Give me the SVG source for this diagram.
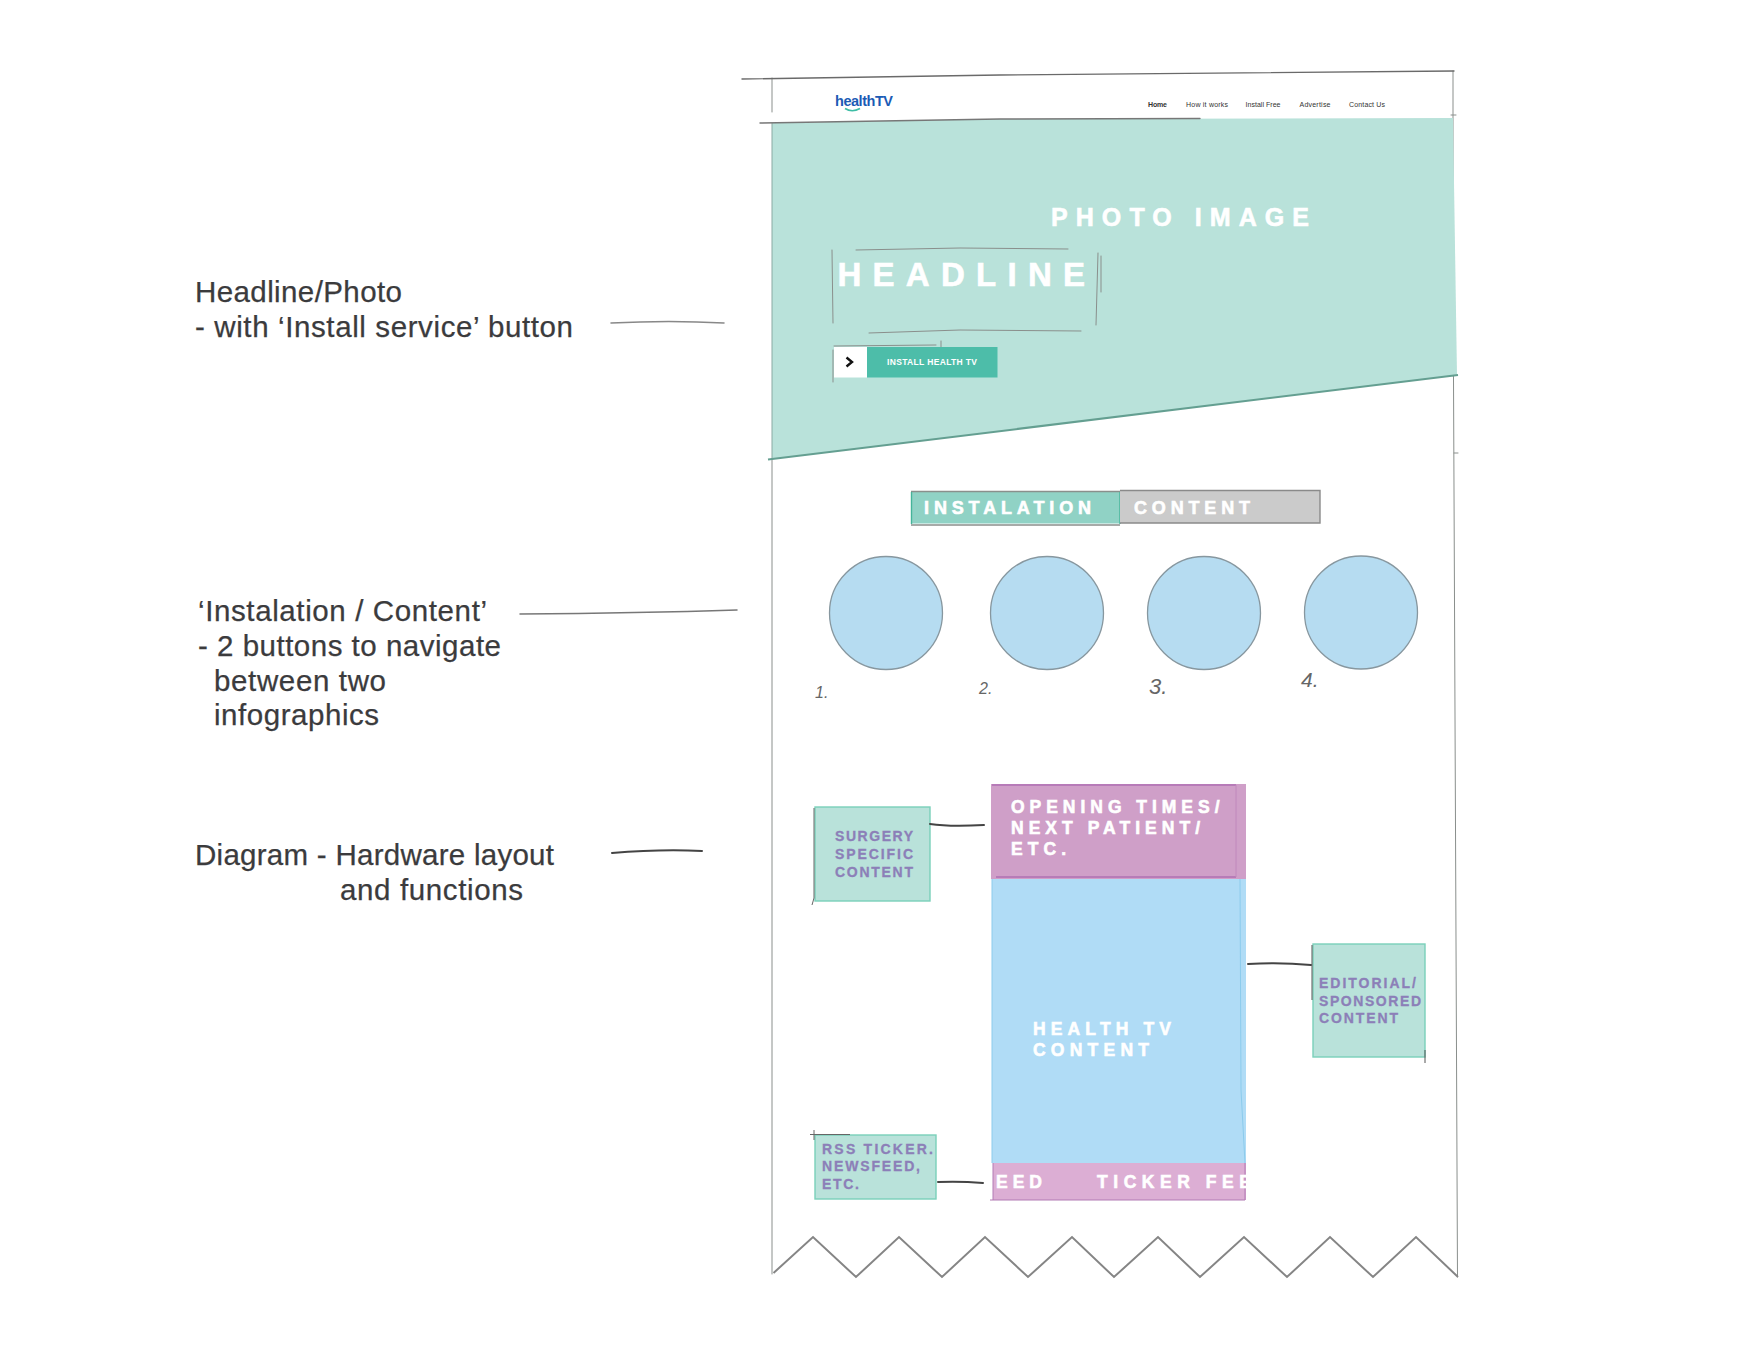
<svg xmlns="http://www.w3.org/2000/svg" width="1746" height="1367" viewBox="0 0 1746 1367">
<style>
text{font-family:"Liberation Sans",Arial,sans-serif}
.note{font-size:29.500px;fill:#3b3b3d;stroke:#3b3b3d;stroke-width:.25}
.hw{font-weight:700;fill:#fff;stroke:#fff;stroke-width:.6}
.s17{font-size:17.500px}
.pv{font-size:14px;font-weight:700;fill:#8c7fb8;stroke:#8c7fb8;stroke-width:.3}
.nav{font-size:7px;fill:#333}
.num{font-size:16px;font-style:italic;fill:#666}
.pen{fill:none;stroke:#8a8f8c;stroke-width:1;stroke-linecap:round}
.pen2{fill:none;stroke:#6a6a6a;stroke-width:1.400;stroke-linecap:round}
.ink{fill:none;stroke:#444;stroke-width:2;stroke-linecap:round}
.circ{fill:#b6dcf1;stroke:#87979f;stroke-width:1.300}
.grn{fill:#b9e2da;stroke:#7ad0ba;stroke-width:1.400}
</style>
<defs><clipPath id="fc"><rect x="993" y="1163" width="253" height="37"/></clipPath></defs>
<rect width="1746" height="1367" fill="#fff"/>

<g id="note-headline">
<text class="note" x="195" y="302" textLength="207" lengthAdjust="spacing">Headline/Photo</text>
<text class="note" x="195" y="337" textLength="378" lengthAdjust="spacing">- with ‘Install service’ button</text>
</g>
<g id="note-instalation">
<text class="note" x="198" y="621" textLength="289" lengthAdjust="spacing">‘Instalation / Content’</text>
<text class="note" x="198" y="656" textLength="303" lengthAdjust="spacing">- 2 buttons to navigate</text>
<text class="note" x="214" y="691" textLength="172" lengthAdjust="spacing">between two</text>
<text class="note" x="214" y="725" textLength="165" lengthAdjust="spacing">infographics</text>
</g>
<g id="note-diagram">
<text class="note" x="195" y="865" textLength="359" lengthAdjust="spacing">Diagram - Hardware layout</text>
<text class="note" x="340" y="900" textLength="183" lengthAdjust="spacing">and functions</text>
</g>

<g id="page-frame">
<path class="pen" d="M772 78V112M772 459V1274M1453 71V376M1453.500 376L1457.500 1277M1451 115h5M1454 453h4"/>
<path class="pen2" d="M742 79L1000 75L1454 71"/>
<polyline points="773.500,1273 813,1237 856,1277 899,1237 942,1277 985,1237 1028,1277 1072,1237 1114,1277 1158,1237 1200,1277 1244,1237 1287,1277 1330,1237 1373,1277 1416,1237 1458,1277" fill="none" stroke="#858585" stroke-width="2"/>
</g>

<g id="site-header">
<text x="835" y="106" font-size="14.500" font-weight="700" fill="#1c5bb5" textLength="58" lengthAdjust="spacing">healthTV</text>
<path d="M845 108.500Q852 113 860 108.500" fill="none" stroke="#3dbda5" stroke-width="1.600"/>
<text class="nav" x="1148" y="106.500" font-weight="700" textLength="19">Home</text>
<text class="nav" x="1186" y="106.500" textLength="42">How it works</text>
<text class="nav" x="1245.500" y="106.500" textLength="35">Install Free</text>
<text class="nav" x="1299.500" y="106.500" textLength="31">Advertise</text>
<text class="nav" x="1349" y="106.500" textLength="36">Contact Us</text>
</g>

<g id="hero">
<polygon points="772,123 1000,119 1453,118 1457,375 772,459" fill="#b9e2da"/>
<path class="pen" d="M772 123V459" style="stroke:#8aa9a2"/>
<path class="pen2" d="M760 123L1000 119L1200 118.500" style="stroke:#777"/>
<path d="M768 459.500L1458 375" fill="none" stroke="#649f91" stroke-width="2"/>
<text class="hw" x="1051" y="226" font-size="25" textLength="258" lengthAdjust="spacing">PHOTO IMAGE</text>
<text class="hw" x="837.500" y="286" font-size="33" textLength="247.500" lengthAdjust="spacing">HEADLINE</text>
<path class="pen" d="M856 250L960 248L1068 249M832 250L833 323M1098 253L1096 325M1101 256L1101 292M869 333L960 330L1081 331"/>
</g>

<g id="install-button">
<path class="pen" d="M834 346L936 345M941 341V347M833 350V382"/>
<rect x="834" y="347" width="33" height="30.500" fill="#fff"/>
<rect x="867" y="347" width="130.500" height="30.500" fill="#4dbda9"/>
<path d="M846.500 357.500L852 362L846.500 366.500" fill="none" stroke="#111" stroke-width="2.400"/>
<text x="887" y="365" font-size="8.500" font-weight="700" fill="#fff" textLength="90" lengthAdjust="spacing">INSTALL HEALTH TV</text>
</g>

<g id="tab-instalation">
<rect x="911" y="491.500" width="209" height="32" fill="#90d2c5"/>
<path d="M911 491.500H1120M911 525H1120" fill="none" stroke="#8a8f8c" stroke-width="1.400"/>
<path d="M911.500 492V524M1120 492V524" fill="none" stroke="#45b49a" stroke-width="1.400"/>
<text class="hw" x="924" y="514" font-size="18" textLength="167" lengthAdjust="spacing">INSTALATION</text>
</g>
<g id="tab-content">
<rect x="1120" y="490.500" width="200" height="32.500" fill="#cbcbcb"/>
<path d="M1120 490.500H1320V523H1120" fill="none" stroke="#8a8a8a" stroke-width="1.400"/>
<text class="hw" x="1134" y="514" font-size="18" textLength="116" lengthAdjust="spacing">CONTENT</text>
</g>

<g id="circle-1"><ellipse class="circ" cx="886" cy="613" rx="56.500" ry="56.500"/><text class="num" x="815" y="698" font-size="13">1.</text></g>
<g id="circle-2"><ellipse class="circ" cx="1047" cy="613" rx="56.500" ry="56.500"/><text class="num" x="979" y="694">2.</text></g>
<g id="circle-3"><ellipse class="circ" cx="1204" cy="613" rx="56.500" ry="56.500"/><text class="num" x="1149" y="694" style="font-size:22px">3.</text></g>
<g id="circle-4"><ellipse class="circ" cx="1361" cy="612.500" rx="56.500" ry="56.500"/><text class="num" x="1301" y="687" style="font-size:21px">4.</text></g>

<g id="screen-top">
<rect x="991" y="784" width="255" height="95" fill="#cf9fc8"/>
<path d="M992 785H1236M996 877H1236" fill="none" stroke="#b070b2" stroke-width="1.400"/>
<path d="M1236 785V877" fill="none" stroke="#c088bc" stroke-width="1"/>
<text class="hw s17" x="1011" y="813" textLength="208.500" lengthAdjust="spacing">OPENING TIMES/</text>
<text class="hw s17" x="1011" y="834" textLength="189" lengthAdjust="spacing">NEXT PATIENT/</text>
<text class="hw s17" x="1011" y="855" textLength="55" lengthAdjust="spacing">ETC.</text>
</g>
<g id="screen-main">
<rect x="992" y="879" width="254" height="284" fill="#b0dcf6"/>
<path d="M992 879V1163M1240 879L1241 1090L1245 1163" fill="none" stroke="#8ccbec" stroke-width="1"/>
<text class="hw s17" x="1033" y="1035" textLength="138" lengthAdjust="spacing">HEALTH TV</text>
<text class="hw s17" x="1033" y="1056" textLength="116" lengthAdjust="spacing">CONTENT</text>
</g>
<g id="screen-ticker">
<rect x="993" y="1163" width="253" height="37" fill="#dcaed4"/>
<path d="M990 1200H1245V1163M993 1163V1200" fill="none" stroke="#b27ab4" stroke-width="1"/>
<g clip-path="url(#fc)">
<text class="hw s17" x="996" y="1188" textLength="46" lengthAdjust="spacing">EED</text>
<text class="hw s17" x="1097" y="1188" textLength="154" lengthAdjust="spacing">TICKER FEE</text>
</g>
</g>

<g id="box-surgery">
<rect class="grn" x="815" y="807" width="115" height="94"/>
<path d="M814 808V898L812 905" fill="none" stroke="#666" stroke-width="1"/>
<text class="pv" x="835" y="841" textLength="78" lengthAdjust="spacing">SURGERY</text>
<text class="pv" x="835" y="859" textLength="78" lengthAdjust="spacing">SPECIFIC</text>
<text class="pv" x="835" y="877" textLength="78" lengthAdjust="spacing">CONTENT</text>
</g>
<g id="box-editorial">
<rect class="grn" x="1313" y="944" width="112" height="113"/>
<path d="M1312 945V1000M1425 1050V1063" fill="none" stroke="#555" stroke-width="1"/>
<text class="pv" x="1319" y="988" textLength="97" lengthAdjust="spacing">EDITORIAL/</text>
<text class="pv" x="1319" y="1006" textLength="102" lengthAdjust="spacing">SPONSORED</text>
<text class="pv" x="1319" y="1023" textLength="79" lengthAdjust="spacing">CONTENT</text>
</g>
<g id="box-rss">
<rect class="grn" x="815" y="1135" width="121" height="64"/>
<path d="M810 1134.500H850M814 1130V1140" fill="none" stroke="#666" stroke-width="1"/>
<text class="pv" x="822" y="1154" textLength="111" lengthAdjust="spacing">RSS TICKER.</text>
<text class="pv" x="822" y="1171" textLength="98" lengthAdjust="spacing">NEWSFEED,</text>
<text class="pv" x="822" y="1189" textLength="37" lengthAdjust="spacing">ETC.</text>
</g>

<g id="connectors">
<path class="ink" style="stroke:#888;stroke-width:1.500" d="M611 323Q670 320 724 323"/>
<path class="ink" style="stroke:#777;stroke-width:1.500" d="M520 614Q640 613 737 610"/>
<path class="ink" d="M612 853Q660 849 702 851"/>
<path class="ink" d="M930 824Q950 827 984 825"/>
<path class="ink" d="M1248 964Q1280 962 1311 965"/>
<path class="ink" d="M938 1182Q960 1181 983 1183"/>
</g>
</svg>
